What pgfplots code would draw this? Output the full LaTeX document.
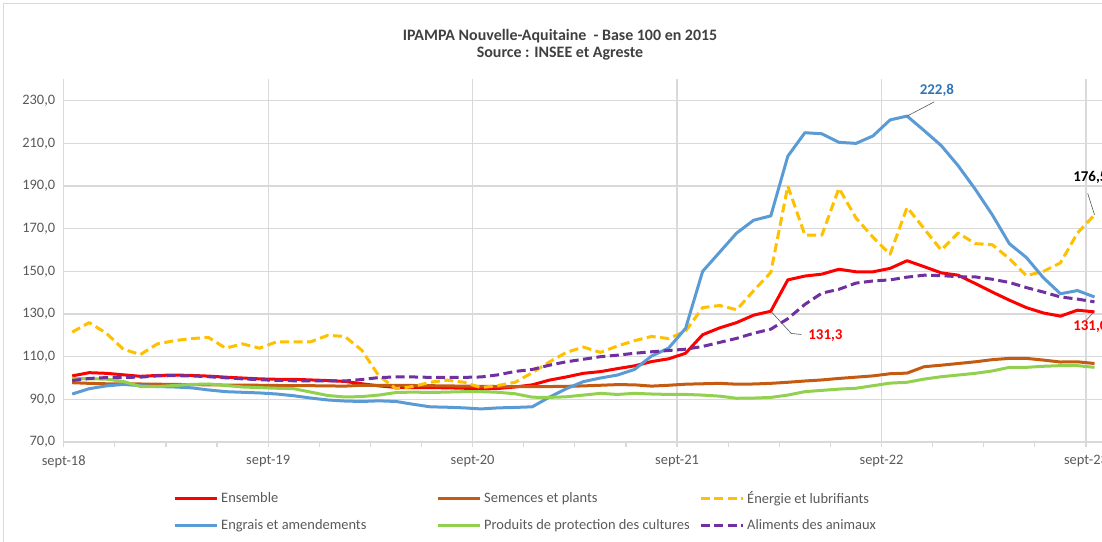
\documentclass[border=0pt]{standalone}
\usepackage{fontspec}
\setmainfont{Carlito}
\usepackage{pgfplots}
\pgfplotsset{compat=1.18}
\usepackage{pgfplotstable}
\definecolor{cEns}{HTML}{FF0000}
\definecolor{cSem}{HTML}{C55A11}
\definecolor{cEne}{HTML}{FFC000}
\definecolor{cEng}{HTML}{5B9BD5}
\definecolor{cPro}{HTML}{92D050}
\definecolor{cAli}{HTML}{7030A0}
\definecolor{cGrid}{HTML}{D9D9D9}
\definecolor{cTxt}{HTML}{595959}
\definecolor{cTitle}{HTML}{404040}
\definecolor{cLabBlue}{HTML}{2E75B6}
\pgfplotstableread{
m ens sem ene eng pro ali
0.5 101.0 97.8 121.5 92.5 99.8 98.8
1.5 102.5 97.5 126.0 95.0 99.6 99.8
2.5 102.2 97.3 121.0 96.3 99.5 100.2
3.5 101.5 97.2 113.5 97.0 98.4 100.3
4.5 100.8 97.2 111.0 96.4 96.0 100.4
5.5 101.2 97.1 116.0 96.0 96.0 101.0
6.5 101.4 97.0 117.5 95.8 96.5 101.1
7.5 101.2 96.9 118.5 95.4 97.0 101.0
8.5 100.9 96.8 119.0 94.4 97.2 100.6
9.5 100.4 96.7 114.0 93.6 96.5 100.1
10.5 100.0 96.7 116.0 93.3 95.8 99.6
11.5 99.6 96.6 114.0 93.0 95.5 99.2
12.5 99.4 96.5 117.0 92.5 95.2 98.9
13.5 99.4 96.4 117.0 91.7 95.0 98.7
14.5 99.1 96.4 117.0 90.6 93.4 98.6
15.5 98.8 96.3 120.0 89.7 91.8 98.6
16.5 98.4 96.2 119.5 89.2 91.1 98.6
17.5 97.3 96.6 113.0 89.0 91.3 99.3
18.5 96.3 96.6 101.0 89.3 92.0 100.2
19.5 95.6 96.6 95.0 89.0 93.2 100.5
20.5 95.5 96.5 96.0 87.7 93.4 100.5
21.5 95.5 96.4 98.0 86.5 93.2 100.3
22.5 95.4 96.3 99.0 86.3 93.4 100.3
23.5 95.2 96.2 98.0 86.0 93.6 100.3
24.5 94.8 96.1 95.5 85.5 93.6 100.5
25.5 95.1 96.0 96.5 86.0 93.3 101.5
26.5 95.8 96.0 98.0 86.2 92.6 103.1
27.5 96.8 96.0 102.5 86.5 91.0 104.0
28.5 99.0 96.0 107.5 91.0 90.9 106.0
29.5 100.5 96.1 112.0 95.0 91.2 107.6
30.5 102.2 96.3 114.5 98.3 92.0 108.8
31.5 103.0 96.6 112.0 100.0 92.8 110.0
32.5 104.4 96.9 115.0 101.4 92.3 110.7
33.5 105.7 96.8 117.5 104.0 92.8 111.6
34.5 107.7 96.2 119.5 110.3 92.5 112.3
35.5 109.0 96.6 118.5 114.0 92.3 112.9
36.5 111.6 97.1 122.0 123.3 92.3 113.5
37.5 120.3 97.3 133.0 150.0 92.0 114.8
38.5 123.5 97.5 134.0 159.0 91.5 116.7
39.5 126.0 97.1 132.0 168.0 90.5 118.6
40.5 129.5 97.2 141.0 174.0 90.6 121.0
41.5 131.3 97.5 149.5 176.0 90.9 122.9
42.5 146.0 98.0 190.0 204.0 92.0 127.8
43.5 147.8 98.6 167.0 215.0 93.6 134.5
44.5 148.7 99.1 167.0 214.5 94.2 139.8
45.5 151.0 99.8 189.0 210.5 94.8 141.6
46.5 149.8 100.4 175.0 210.0 95.2 144.5
47.5 149.8 101.0 166.0 213.5 96.4 145.5
48.5 151.4 102.0 158.0 221.0 97.6 146.0
49.5 155.0 102.3 180.0 222.8 98.0 147.3
50.5 152.2 105.3 170.0 216.0 99.5 148.2
51.5 149.3 106.0 160.0 209.0 100.6 148.0
52.5 148.2 106.8 168.0 199.5 101.4 147.5
53.5 144.3 107.6 163.0 188.5 102.2 147.4
54.5 140.3 108.6 162.5 176.5 103.3 146.3
55.5 136.5 109.2 156.0 163.0 105.0 144.8
56.5 133.0 109.2 148.0 156.5 105.0 142.4
57.5 130.5 108.4 150.0 147.0 105.5 140.3
58.5 129.0 107.5 154.0 139.5 105.8 138.0
59.5 131.8 107.6 168.0 141.0 105.8 137.0
60.5 131.0 106.8 176.5 138.0 105.0 135.7
}\data
\begin{document}
\begin{tikzpicture}
\useasboundingbox (-63.7bp,-100bp) rectangle (1038.3bp,442bp);
\clip (-63.7bp,-100bp) rectangle (1038.3bp,442bp);
\draw[cGrid, line width=1bp] (-60.2bp,438bp) rectangle (1046bp,-103bp);
\begin{axis}[
  scale only axis,
  width=1039.4bp, height=362.6bp,
  xmin=0, xmax=61, ymin=70, ymax=240,
  axis lines*=left,
  x axis line style={cGrid, line width=1.2bp},
  y axis line style={draw=none},
  xtick={0,12,24,36,48,60},
  xticklabels={sept-18,sept-19,sept-20,sept-21,sept-22,sept-23},
  minor xtick={3,6,9,15,18,21,27,30,33,39,42,45,51,54,57},
  ytick={70,90,...,230},
  xmajorgrids, ymajorgrids,
  grid style={cGrid, line width=1.2bp},
  minor grid style={draw=none},
  tick align=outside,
  major tick length=5bp, minor tick length=5bp,
  xtick style={cGrid, line width=1.2bp},
  ytick style={draw=none},
  /pgf/number format/assume math mode=true,
  yticklabel style={/pgf/number format/.cd, fixed, fixed zerofill, precision=1, use comma},
  xticklabel style={yshift=-5bp},
  tick label style={font=\fontsize{14.5}{16}\selectfont, text=cTxt},
  clip mode=individual,
  legend columns=3,
  legend cell align=left,
  legend image code/.code={\draw[#1] (0bp,0bp) -- (42bp,0bp);},
  legend style={at={(axis description cs:0.1052,-0.133)}, anchor=north west,
    draw=none, fill=none, font=\fontsize{14.5}{16}\selectfont, text=cTxt,
    column sep=2bp, row sep=12.5bp, inner sep=0pt, nodes={inner sep=1pt}},
  every axis plot/.append style={line width=3bp, line join=round},
]
\addplot[cEns] table[x=m, y=ens] {\data};
\addlegendentry{\makebox[212bp][l]{Ensemble}}
\addplot[cSem] table[x=m, y=sem] {\data};
\addlegendentry{\makebox[212bp][l]{Semences et plants}}
\addplot[cEne, dash pattern=on 9bp off 4.5bp] table[x=m, y=ene] {\data};
\addlegendentry{\makebox[212bp][l]{Énergie et lubrifiants}}
\addplot[cEng] table[x=m, y=eng] {\data};
\addlegendentry{\makebox[212bp][l]{Engrais et amendements}}
\addplot[cPro] table[x=m, y=pro] {\data};
\addlegendentry{\makebox[212bp][l]{Produits de protection des cultures}}
\addplot[cAli, dash pattern=on 9bp off 4.5bp] table[x=m, y=ali] {\data};
\addlegendentry{\makebox[212bp][l]{Aliments des animaux}}
\draw[gray!70!black, line width=0.6bp] (axis cs:49.5,222.8) -- (axis cs:51.1,229.5);
\node[font=\bfseries\fontsize{15}{17}\selectfont, text=cLabBlue] at (axis cs:51.25,235) {222,8};
\draw[gray!70!black, line width=0.6bp] (axis cs:41.5,131.3) -- (axis cs:42.7,120.9) -- (axis cs:43.3,120.4);
\node[anchor=west, font=\bfseries\fontsize{15}{17}\selectfont, text=cEns] at (axis cs:43.5,120) {131,3};
\draw[gray!70!black, line width=0.6bp] (axis cs:60.5,176.5) -- (axis cs:60.1,186.6);
\node[anchor=west, font=\bfseries\fontsize{15}{17}\selectfont, text=black] at (axis cs:59.05,194.1) {176,5};
\draw[gray!70!black, line width=0.6bp] (axis cs:60.4,130.5) -- (axis cs:60.0,126.9);
\node[anchor=west, font=\bfseries\fontsize{15}{17}\selectfont, text=cEns] at (axis cs:59.05,124.1) {131,0};
\end{axis}
\node[font=\bfseries\fontsize{16}{18}\selectfont, text=cTitle] at (496.3bp,405.5bp) {IPAMPA Nouvelle-Aquitaine \ - Base 100 en 2015};
\node[font=\bfseries\fontsize{16}{18}\selectfont, text=cTitle] at (496.3bp,388.5bp) {Source : INSEE et Agreste};
\end{tikzpicture}
\end{document}
